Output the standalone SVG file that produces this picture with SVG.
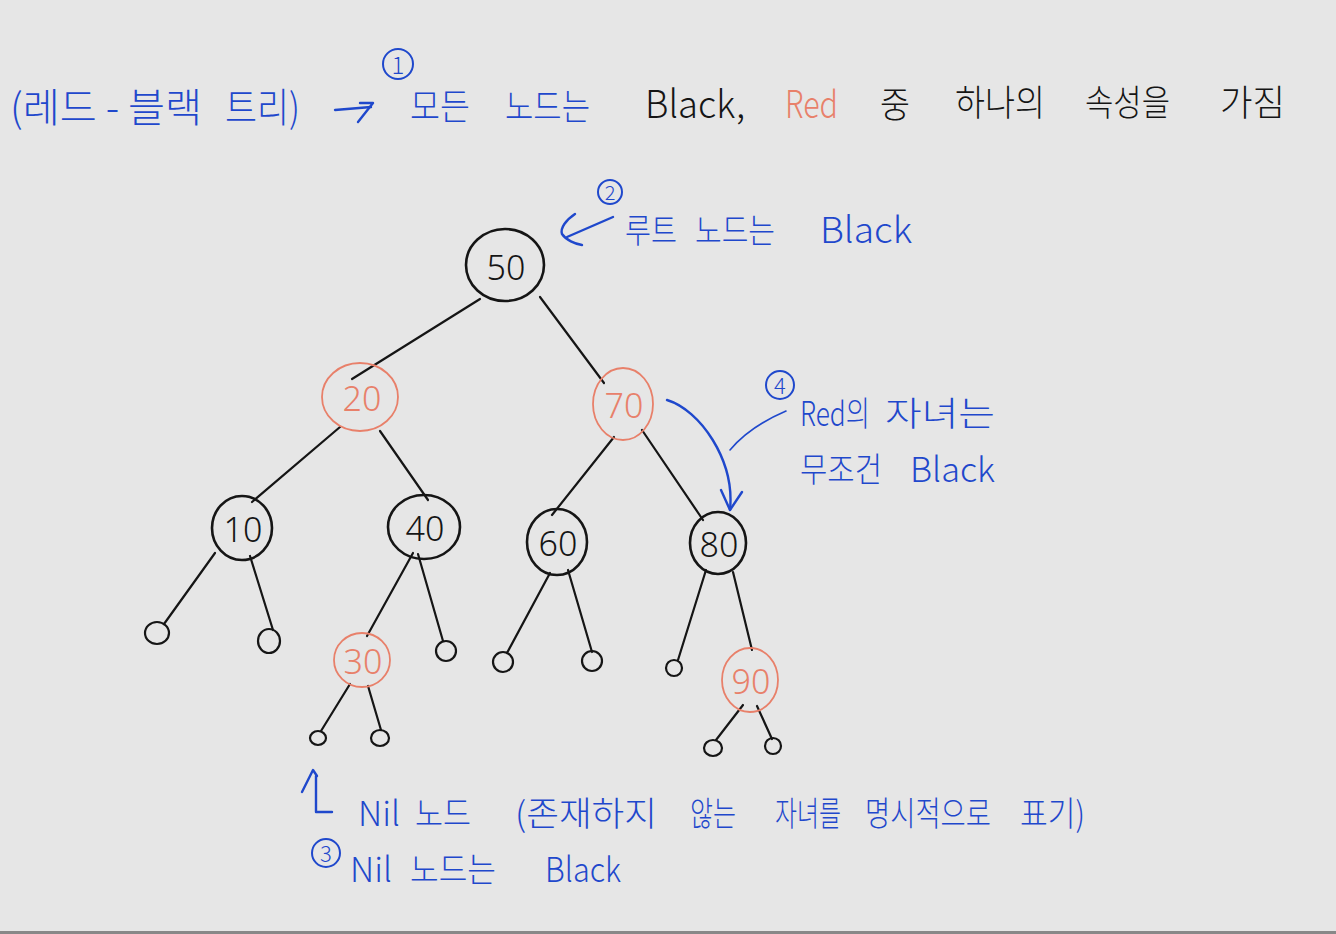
<svg xmlns="http://www.w3.org/2000/svg" width="1336" height="934" viewBox="0 0 1336 934">
<style>
.bg{fill:#e6e6e6}
.t{font-family:"Noto Sans CJK KR","Noto Sans",sans-serif;font-weight:300}
.blue{fill:#1f48cc}
.blk{fill:#151515}
.red{fill:#e8806a}
.num{font-family:"Noto Sans","Noto Sans CJK KR",sans-serif;font-weight:300;font-size:34px;text-anchor:middle}
.nb{fill:none;stroke:#151515;stroke-width:2.6}
.nr{fill:none;stroke:#e8806a;stroke-width:1.8}
.nil{fill:none;stroke:#151515;stroke-width:2.2}
.edge{fill:none;stroke:#151515;stroke-width:2.2;stroke-linecap:round}
.ann{fill:none;stroke:#1f48cc;stroke-width:2.4;stroke-linecap:round;stroke-linejoin:round}
.annthin{fill:none;stroke:#1f48cc;stroke-width:1.6;stroke-linecap:round}
</style>
<rect class="bg" x="0" y="0" width="1336" height="934"/>
<rect x="0" y="931" width="1336" height="3" fill="#888"/>

<g id="connectors">
<line class="edge" x1="480" y1="299" x2="352" y2="379"/>
<line class="edge" x1="540" y1="297" x2="604" y2="383"/>
<line class="edge" x1="340" y1="427" x2="252" y2="502"/>
<line class="edge" x1="380" y1="431" x2="428" y2="500"/>
<line class="edge" x1="614" y1="437" x2="552" y2="515"/>
<line class="edge" x1="642" y1="430" x2="703" y2="520"/>
<line class="edge" x1="215" y1="553" x2="164" y2="624"/>
<line class="edge" x1="250" y1="556" x2="273" y2="630"/>
<line class="edge" x1="413" y1="553" x2="367" y2="636"/>
<line class="edge" x1="418" y1="554" x2="443" y2="641"/>
<line class="edge" x1="350" y1="684" x2="321" y2="731"/>
<line class="edge" x1="368" y1="686" x2="381" y2="730"/>
<line class="edge" x1="550" y1="573" x2="507" y2="653"/>
<line class="edge" x1="568" y1="570" x2="592" y2="652"/>
<line class="edge" x1="706" y1="570" x2="678" y2="660"/>
<line class="edge" x1="733" y1="572" x2="752" y2="650"/>
<line class="edge" x1="743" y1="705" x2="716" y2="740"/>
<line class="edge" x1="757" y1="706" x2="772" y2="739"/>
<path class="ann" d="M667 400 C 700 410, 735 460, 730 510"/>
<path class="ann" d="M721 490 L730 510 L742 492"/>
<path class="annthin" d="M786 411 C 765 420, 745 432, 730 450"/>
<path class="ann" d="M613 217 L567 237"/>
<path class="ann" d="M575 214 C 566 220, 560 228, 562 234 C 566 240, 575 244, 582 245"/>
<path class="ann" d="M302 792 L313 770 L317 776"/>
<path class="ann" d="M316 776 L316 812 L332 812"/>
<path class="ann" d="M335 110 L371 107"/>
<path class="ann" d="M360 103 L373 103 L358 122"/>
</g>

<g id="n50"><ellipse class="nb" cx="505" cy="265" rx="39" ry="36"/><text class="num blk" x="506" y="280">50</text></g>
<g id="n20"><ellipse class="nr" cx="360" cy="397" rx="38" ry="34"/><text class="num red" x="362" y="411">20</text></g>
<g id="n70"><ellipse class="nr" cx="623" cy="404" rx="30" ry="36"/><text class="num red" x="624" y="418">70</text></g>
<g id="n10"><ellipse class="nb" cx="242" cy="528" rx="30" ry="32"/><text class="num blk" x="243" y="542">10</text></g>
<g id="n40"><ellipse class="nb" cx="424" cy="527" rx="36" ry="32"/><text class="num blk" x="425" y="541">40</text></g>
<g id="n60"><ellipse class="nb" cx="557" cy="542" rx="30" ry="33"/><text class="num blk" x="558" y="556">60</text></g>
<g id="n80"><ellipse class="nb" cx="718" cy="543" rx="28" ry="31"/><text class="num blk" x="719" y="557">80</text></g>
<g id="n30"><ellipse class="nr" cx="362" cy="660" rx="28" ry="27"/><text class="num red" x="363" y="674">30</text></g>
<g id="n90"><ellipse class="nr" cx="750" cy="680" rx="28" ry="32"/><text class="num red" x="751" y="694">90</text></g>

<g id="nil-10L"><ellipse class="nil" cx="157" cy="633" rx="12" ry="11"/></g>
<g id="nil-10R"><ellipse class="nil" cx="269" cy="641" rx="11" ry="12"/></g>
<g id="nil-40R"><ellipse class="nil" cx="446" cy="651" rx="10" ry="10"/></g>
<g id="nil-30L"><ellipse class="nil" cx="318" cy="738" rx="8" ry="7"/></g>
<g id="nil-30R"><ellipse class="nil" cx="380" cy="738" rx="9" ry="8"/></g>
<g id="nil-60L"><ellipse class="nil" cx="503" cy="662" rx="10" ry="10"/></g>
<g id="nil-60R"><ellipse class="nil" cx="592" cy="661" rx="10" ry="10"/></g>
<g id="nil-80L"><ellipse class="nil" cx="674" cy="668" rx="8" ry="8"/></g>
<g id="nil-90L"><ellipse class="nil" cx="713" cy="748" rx="9" ry="8"/></g>
<g id="nil-90R"><ellipse class="nil" cx="773" cy="746" rx="8" ry="8"/></g>

<g id="title">
<circle cx="398" cy="64" r="15" fill="none" stroke="#1f48cc" stroke-width="2"/>
<text class="t blue" x="398" y="74" font-size="24" text-anchor="middle">1</text>
<text class="t blue" x="10" y="122" font-size="40" textLength="192" lengthAdjust="spacingAndGlyphs">(레드 - 블랙</text>
<text class="t blue" x="225" y="122" font-size="40" textLength="75" lengthAdjust="spacingAndGlyphs">트리)</text>
<text class="t blue" x="410" y="120" font-size="36" textLength="60" lengthAdjust="spacingAndGlyphs">모든</text>
<text class="t blue" x="505" y="120" font-size="36" textLength="85" lengthAdjust="spacingAndGlyphs">노드는</text>
<text class="t blk" x="645" y="118" font-size="38" textLength="100" lengthAdjust="spacingAndGlyphs">Black,</text>
<text class="t red" x="785" y="118" font-size="38" textLength="53" lengthAdjust="spacingAndGlyphs">Red</text>
<text class="t blk" x="880" y="118" font-size="36" textLength="30" lengthAdjust="spacingAndGlyphs">중</text>
<text class="t blk" x="955" y="116" font-size="36" textLength="90" lengthAdjust="spacingAndGlyphs">하나의</text>
<text class="t blk" x="1085" y="116" font-size="36" textLength="85" lengthAdjust="spacingAndGlyphs">속성을</text>
<text class="t blk" x="1220" y="116" font-size="36" textLength="65" lengthAdjust="spacingAndGlyphs">가짐</text>
</g>

<g id="note2">
<circle cx="610" cy="192" r="12" fill="none" stroke="#1f48cc" stroke-width="2"/>
<text class="t blue" x="610" y="200" font-size="20" text-anchor="middle">2</text>
<text class="t blue" x="625" y="243" font-size="34" textLength="52" lengthAdjust="spacingAndGlyphs">루트</text>
<text class="t blue" x="695" y="243" font-size="34" textLength="80" lengthAdjust="spacingAndGlyphs">노드는</text>
<text class="t blue" x="820" y="243" font-size="36" textLength="92" lengthAdjust="spacingAndGlyphs">Black</text>
</g>

<g id="note4">
<circle cx="780" cy="385" r="14" fill="none" stroke="#1f48cc" stroke-width="2"/>
<text class="t blue" x="780" y="394" font-size="22" text-anchor="middle">4</text>
<text class="t blue" x="800" y="426" font-size="34" textLength="70" lengthAdjust="spacingAndGlyphs">Red의</text>
<text class="t blue" x="885" y="426" font-size="34" textLength="110" lengthAdjust="spacingAndGlyphs">자녀는</text>
<text class="t blue" x="800" y="482" font-size="34" textLength="82" lengthAdjust="spacingAndGlyphs">무조건</text>
<text class="t blue" x="910" y="482" font-size="34" textLength="85" lengthAdjust="spacingAndGlyphs">Black</text>
</g>

<g id="note3">
<text class="t blue" x="358" y="826" font-size="34" textLength="42" lengthAdjust="spacingAndGlyphs">Nil</text>
<text class="t blue" x="415" y="826" font-size="34" textLength="56" lengthAdjust="spacingAndGlyphs">노드</text>
<text class="t blue" x="515" y="826" font-size="34" textLength="142" lengthAdjust="spacingAndGlyphs">(존재하지</text>
<text class="t blue" x="690" y="826" font-size="34" textLength="46" lengthAdjust="spacingAndGlyphs">않는</text>
<text class="t blue" x="775" y="826" font-size="34" textLength="66" lengthAdjust="spacingAndGlyphs">자녀를</text>
<text class="t blue" x="865" y="826" font-size="34" textLength="126" lengthAdjust="spacingAndGlyphs">명시적으로</text>
<text class="t blue" x="1020" y="826" font-size="34" textLength="65" lengthAdjust="spacingAndGlyphs">표기)</text>
<circle cx="326" cy="853" r="14" fill="none" stroke="#1f48cc" stroke-width="2"/>
<text class="t blue" x="326" y="862" font-size="22" text-anchor="middle">3</text>
<text class="t blue" x="350" y="882" font-size="34" textLength="42" lengthAdjust="spacingAndGlyphs">Nil</text>
<text class="t blue" x="410" y="882" font-size="34" textLength="86" lengthAdjust="spacingAndGlyphs">노드는</text>
<text class="t blue" x="545" y="882" font-size="34" textLength="76" lengthAdjust="spacingAndGlyphs">Black</text>
</g>
</svg>
